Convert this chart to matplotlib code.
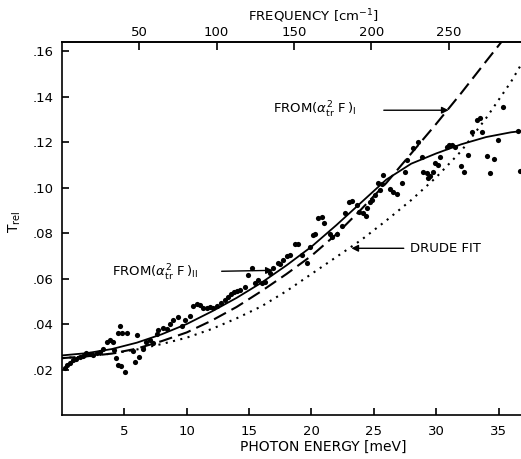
import numpy as np
import matplotlib
matplotlib.use("Agg")
import matplotlib.pyplot as plt

# ---- data ----
# measured points: photon energy [meV], T_rel
pts_e = [0.24, 0.40, 0.64, 0.88, 1.12, 1.44, 1.68, 1.92, 2.24, 2.48, 2.80, 3.04, 3.29,
         3.61, 3.85, 4.09, 4.17, 4.33, 4.49, 4.65, 4.81, 5.21, 4.49, 4.73, 5.05, 5.69,
         5.85, 6.01, 6.17, 6.49, 6.73, 7.05, 7.29, 7.61, 7.69, 8.09, 8.41, 8.65, 8.89,
         9.29, 9.62, 9.86, 10.26, 10.50, 10.82, 11.06, 11.30, 11.62, 11.86, 12.10, 12.42,
         12.74, 13.06, 13.30, 13.54, 13.78, 14.02, 14.26, 14.66, 14.90, 15.22, 15.46,
         15.71, 16.03, 16.27, 16.67, 16.91, 17.31, 17.47, 17.71, 18.03, 18.27, 18.67,
         18.91, 19.23, 19.63, 19.87, 20.11, 20.27, 20.51, 20.83, 20.99, 21.47, 21.63,
         22.04, 22.44, 22.68, 23.00, 23.24, 23.64, 23.80, 24.12, 24.36, 24.44, 24.68,
         24.84, 25.08, 25.32, 25.48, 25.64, 25.72, 26.28, 26.52, 26.84, 27.24, 27.48,
         27.64, 28.13, 28.53, 28.85, 28.93, 29.25, 29.33, 29.49, 29.73, 29.89, 30.13,
         30.29, 30.85, 31.01, 31.25, 31.49, 31.97, 32.21, 32.53, 32.85, 33.25, 33.49,
         33.65, 34.05, 34.29, 34.62, 34.94, 35.34, 36.54, 36.70]
pts_t = [0.0206, 0.0219, 0.0228, 0.0241, 0.0245, 0.0254, 0.0258, 0.0272, 0.0267, 0.0263,
         0.0272, 0.0276, 0.0289, 0.0320, 0.0329, 0.0320, 0.0285, 0.0250, 0.0360, 0.0390,
         0.0360, 0.0360, 0.0219, 0.0215, 0.0188, 0.0280, 0.0232, 0.0351, 0.0254, 0.0289,
         0.0320, 0.0329, 0.0316, 0.0355, 0.0373, 0.0382, 0.0377, 0.0399, 0.0417, 0.0430,
         0.0390, 0.0417, 0.0434, 0.0478, 0.0487, 0.0483, 0.0469, 0.0469, 0.0474, 0.0469,
         0.0478, 0.0491, 0.0505, 0.0518, 0.0531, 0.0540, 0.0544, 0.0549, 0.0562, 0.0615,
         0.0645, 0.0580, 0.0593, 0.0580, 0.0584, 0.0623, 0.0645, 0.0667, 0.0663, 0.0680,
         0.0698, 0.0702, 0.0751, 0.0751, 0.0702, 0.0667, 0.0738, 0.0790, 0.0795, 0.0865,
         0.0869, 0.0843, 0.0795, 0.0782, 0.0795, 0.0830, 0.0887, 0.0935, 0.0940, 0.0922,
         0.0891, 0.0887, 0.0874, 0.0909, 0.0935, 0.0944, 0.0966, 0.1019, 0.0988, 0.1015,
         0.1054, 0.0992, 0.0979, 0.0970, 0.1019, 0.1067, 0.1120, 0.1173, 0.1199, 0.1133,
         0.1067, 0.1063, 0.1041, 0.1050, 0.1067, 0.1107, 0.1098, 0.1133, 0.1177, 0.1186,
         0.1186, 0.1177, 0.1094, 0.1067, 0.1142, 0.1243, 0.1296, 0.1305, 0.1243, 0.1138,
         0.1063, 0.1124, 0.1208, 0.1353, 0.1247, 0.1072]

# fit curve (solid)
fit_e = [0, 2, 4, 6, 8, 10, 12, 14, 16, 18, 20, 22, 24, 26, 28, 30, 32, 34, 36, 36.8]
fit_t = [0.0262, 0.0272, 0.0290, 0.0318, 0.0355, 0.0400, 0.0455, 0.0515, 0.0582, 0.0658,
         0.0740, 0.0835, 0.0935, 0.1035, 0.1105, 0.1150, 0.1190, 0.1222, 0.1243, 0.1248]

# from (a2F)_I (dashed)
a2f1_e = [0, 2, 4, 6, 8, 10, 12, 14, 16, 18, 20, 22, 24, 26, 28, 30, 32, 34, 35.3]
a2f1_t = [0.0250, 0.0258, 0.0270, 0.0292, 0.0325, 0.0363, 0.0415, 0.0475, 0.0545, 0.0620,
          0.0700, 0.0795, 0.0905, 0.1020, 0.1150, 0.1280, 0.1415, 0.1555, 0.1645]

# Drude fit (dotted)
drude_e = [0, 2, 4, 6, 8, 10, 12, 14, 16, 18, 20, 22, 24, 26, 28, 30, 32, 34, 36, 36.8]
drude_t = [0.0250, 0.0258, 0.0270, 0.0288, 0.0312, 0.0340, 0.0378, 0.0425, 0.0478, 0.0545,
           0.0620, 0.0695, 0.0770, 0.0855, 0.0945, 0.1045, 0.1160, 0.1305, 0.1465, 0.1540]

x_ticks = [5, 10, 15, 20, 25, 30, 35]
y_ticks = [0.02, 0.04, 0.06, 0.08, 0.10, 0.12, 0.14, 0.16]
y_tick_labels = [".02", ".04", ".06", ".08", ".10", ".12", ".14", ".16"]
freq_ticks = [50, 100, 150, 200, 250]

MEV_TO_CM = 8.0655

plt.rcParams["font.family"] = ["DejaVu Sans"]
plt.rcParams["mathtext.fontset"] = "dejavusans"

fig = plt.figure(figsize=(5.21, 4.59), dpi=100)
ax = fig.add_axes([62 / 521, 1 - 415 / 459, (521 - 62) / 521, (415 - 42) / 459])

ax.scatter(pts_e, pts_t, s=14, color="black", linewidths=0, zorder=3)
ax.plot(fit_e, fit_t, color="black", lw=1.3)
ax.plot(a2f1_e, a2f1_t, color="black", lw=1.5, linestyle=(0, (6.5, 3)))
ax.plot(drude_e, drude_t, color="black", lw=1.5, linestyle=(0, (1, 2.6)))

ax.set_xlim(0, 36.8)
ax.set_ylim(0, 0.164)

ax.set_xticks(x_ticks)
ax.set_xticklabels([str(t) for t in x_ticks])
ax.set_yticks(y_ticks)
ax.set_yticklabels(y_tick_labels)
ax.tick_params(direction="in", length=5, width=1.2, labelsize=9.5, pad=7)
ax.tick_params(axis="y", pad=6)

for side in ["left", "bottom", "top"]:
    ax.spines[side].set_linewidth(1.2)
ax.spines["right"].set_visible(False)

top = ax.secondary_xaxis("top", functions=(lambda e: e * MEV_TO_CM,
                                            lambda f: f / MEV_TO_CM))
top.set_xticks(freq_ticks)
top.tick_params(direction="in", length=6, width=1.2, labelsize=9.5, pad=2)
top.spines["top"].set_linewidth(1.2)

# axis labels
fig.text(323 / 521, 1 - 447 / 459, "PHOTON ENERGY [meV]", ha="center", va="center",
         fontsize=10)
fig.text(313 / 521, 1 - 21 / 459, r"FREQUENCY [cm$^{-1}$]", ha="center", va="baseline",
         fontsize=9.5)
fig.text(15 / 521, 1 - 222 / 459, r"T$_{\rm rel}$", ha="center", va="center",
         rotation=90, fontsize=10)

# annotations
arrow = dict(arrowstyle="-|>", color="black", lw=1.0, mutation_scale=10,
             shrinkA=0, shrinkB=0)

ax.text(16.9, 0.134, r"FROM$(\alpha^{2}_{\rm tr}\ {\rm F}\,)_{\rm I}$",
        ha="left", va="center", fontsize=9.5)
ax.annotate("", xy=(31.0, 0.134), xytext=(25.8, 0.134), arrowprops=arrow)

ax.text(4.0, 0.0625, r"FROM$(\alpha^{2}_{\rm tr}\ {\rm F}\,)_{\rm II}$",
        ha="left", va="center", fontsize=9.5)
ax.annotate("", xy=(16.9, 0.0636), xytext=(12.8, 0.0632), arrowprops=arrow)

ax.text(27.9, 0.0733, "DRUDE FIT", ha="left", va="center", fontsize=9.5)
ax.annotate("", xy=(23.2, 0.0733), xytext=(27.4, 0.0733), arrowprops=arrow)

fig.savefig("out.png", dpi=100)
